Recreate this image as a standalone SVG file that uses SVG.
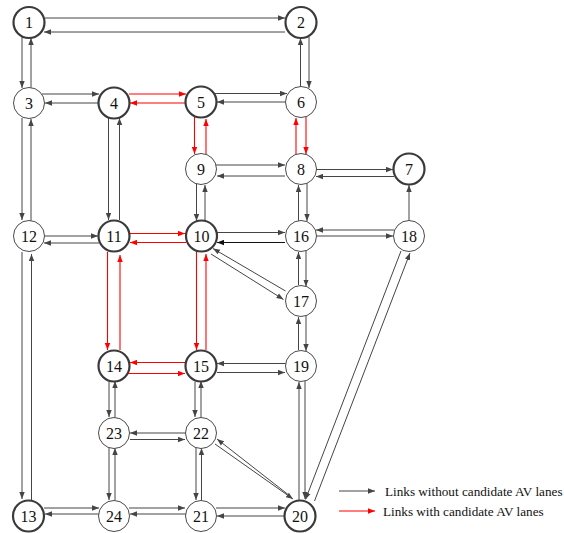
<svg xmlns="http://www.w3.org/2000/svg" width="564" height="533" viewBox="0 0 564 533">
  <style>
    .lk { stroke: #454545; stroke-width: 1; fill: none; marker-end: url(#ah); }
    .lk-k { stroke: #111; stroke-width: 1; fill: none; marker-end: url(#ahk); }
    .av { stroke: #ff0000; stroke-width: 1.1; fill: none; marker-end: url(#ahr); }
    .nd circle { fill: #fff; stroke: #4a4a4a; stroke-width: 1; }
    .nd.hub circle { stroke: #3a3a3a; stroke-width: 2.2; }
    .nd text { font-family: "Liberation Serif", "Times New Roman", serif; font-size: 16px; text-anchor: middle; fill: #111; }
    .lg { font-family: "Liberation Serif", "Times New Roman", serif; font-size: 13.2px; fill: #111; }
  </style>
  <defs>
    <marker id="ah" markerUnits="userSpaceOnUse" markerWidth="7" markerHeight="6" refX="7" refY="3" orient="auto">
      <path d="M0,0.3 L7,3 L0,5.7 z" fill="#454545"/>
    </marker>
    <marker id="ahk" markerUnits="userSpaceOnUse" markerWidth="7" markerHeight="6" refX="7" refY="3" orient="auto">
      <path d="M0,0.3 L7,3 L0,5.7 z" fill="#111"/>
    </marker>
    <marker id="ahr" markerUnits="userSpaceOnUse" markerWidth="7" markerHeight="6" refX="7" refY="3" orient="auto">
      <path d="M0,0.3 L7,3 L0,5.7 z" fill="#ff0000"/>
    </marker>
  </defs>

  <rect width="564" height="533" fill="#fff"/>

  <!-- directed links -->
  <g id="links">
    <line class="lk" x1="45" y1="18" x2="285" y2="18"/>
    <line class="lk" x1="285" y1="32" x2="44" y2="32"/>
    <line class="lk" x1="22" y1="37" x2="22" y2="88"/>
    <line class="lk" x1="31" y1="88" x2="31" y2="38"/>
    <line class="lk" x1="309" y1="37" x2="309" y2="88"/>
    <line class="lk" x1="300.5" y1="87" x2="300.5" y2="38"/>
    <line class="lk" x1="42" y1="94" x2="99" y2="94"/>
    <line class="lk" x1="99" y1="103" x2="45" y2="103"/>
    <line class="lk" x1="215" y1="93.5" x2="287" y2="93.5"/>
    <line class="lk" x1="285" y1="102" x2="217" y2="102"/>
    <line class="lk" x1="216" y1="165" x2="285" y2="165"/>
    <line class="lk" x1="285" y1="176" x2="217" y2="176"/>
    <line class="lk" x1="316" y1="169.5" x2="393" y2="169.5"/>
    <line class="lk" x1="394" y1="176.5" x2="316" y2="176.5"/>
    <line class="lk" x1="22" y1="118" x2="22" y2="220"/>
    <line class="lk" x1="31" y1="221" x2="31" y2="119"/>
    <line class="lk" x1="108.5" y1="118" x2="108.5" y2="220"/>
    <line class="lk" x1="119.5" y1="220" x2="119.5" y2="118"/>
    <line class="lk" x1="196.5" y1="184" x2="196.5" y2="221"/>
    <line class="lk" x1="205" y1="221" x2="205" y2="185"/>
    <line class="lk" x1="298.5" y1="221" x2="298.5" y2="185"/>
    <line class="lk" x1="307" y1="183" x2="307" y2="221"/>
    <line class="lk" x1="409" y1="220" x2="409" y2="185"/>
    <line class="lk" x1="45" y1="236" x2="98" y2="236"/>
    <line class="lk" x1="99" y1="243" x2="44" y2="243"/>
    <line class="lk" x1="217" y1="232.5" x2="285" y2="232.5"/>
    <line class="lk-k" x1="285" y1="242.5" x2="217" y2="242.5"/>
    <line class="lk" x1="394" y1="230" x2="316" y2="230"/>
    <line class="lk" x1="316" y1="236" x2="393" y2="236"/>
    <line class="lk" x1="285.5" y1="291" x2="213" y2="248.5"/>
    <line class="lk" x1="211" y1="254" x2="283.5" y2="299.5"/>
    <line class="lk" x1="298.5" y1="285" x2="298.5" y2="252"/>
    <line class="lk" x1="306" y1="251" x2="306" y2="286.5"/>
    <line class="lk" x1="298.5" y1="350" x2="298.5" y2="317"/>
    <line class="lk" x1="306" y1="316" x2="306" y2="351"/>
    <line class="lk" x1="286" y1="363.5" x2="217" y2="363.5"/>
    <line class="lk" x1="217" y1="372.5" x2="285" y2="372.5"/>
    <line class="lk" x1="401" y1="251" x2="305.5" y2="499.5"/>
    <line class="lk" x1="314.5" y1="501" x2="410" y2="253"/>
    <line class="lk" x1="22" y1="252" x2="22" y2="499"/>
    <line class="lk" x1="31.5" y1="500" x2="31.5" y2="254"/>
    <line class="lk" x1="109" y1="382" x2="109" y2="417"/>
    <line class="lk" x1="115" y1="417" x2="115" y2="381"/>
    <line class="lk" x1="195" y1="382" x2="195" y2="417"/>
    <line class="lk" x1="201" y1="417" x2="201" y2="381"/>
    <line class="lk" x1="130" y1="439.5" x2="185" y2="439.5"/>
    <line class="lk" x1="186" y1="433" x2="130" y2="433"/>
    <line class="lk" x1="109" y1="448" x2="109" y2="500"/>
    <line class="lk" x1="115" y1="500" x2="115" y2="448"/>
    <line class="lk" x1="196" y1="448" x2="196" y2="500"/>
    <line class="lk" x1="201.5" y1="500" x2="201.5" y2="448"/>
    <line class="lk" x1="215" y1="444" x2="293" y2="499"/>
    <line class="lk" x1="290" y1="496" x2="217" y2="439"/>
    <line class="lk" x1="305" y1="381" x2="305" y2="499"/>
    <line class="lk" x1="299" y1="500" x2="299" y2="382"/>
    <line class="lk" x1="44" y1="508" x2="99" y2="508"/>
    <line class="lk" x1="99" y1="514" x2="45" y2="514"/>
    <line class="lk" x1="129" y1="508" x2="185" y2="508"/>
    <line class="lk" x1="186" y1="514" x2="130" y2="514"/>
    <line class="lk" x1="216" y1="508" x2="285" y2="508"/>
    <line class="lk" x1="285" y1="516" x2="217" y2="516"/>

    <!-- links carrying candidate AV lanes -->
    <line class="av" x1="129" y1="94" x2="186" y2="94"/>
    <line class="av" x1="186" y1="103" x2="130" y2="103"/>
    <line class="av" x1="194.5" y1="117" x2="194.5" y2="154"/>
    <line class="av" x1="206" y1="154" x2="206" y2="119"/>
    <line class="av" x1="306" y1="117" x2="306" y2="154"/>
    <line class="av" x1="296" y1="154" x2="296" y2="118"/>
    <line class="av" x1="130" y1="233.5" x2="185" y2="233.5"/>
    <line class="av" x1="186" y1="242.5" x2="130" y2="242.5"/>
    <line class="av" x1="107.5" y1="252" x2="107.5" y2="350"/>
    <line class="av" x1="120" y1="350" x2="120" y2="255"/>
    <line class="av" x1="196.5" y1="251" x2="196.5" y2="350"/>
    <line class="av" x1="206" y1="350" x2="206" y2="254"/>
    <line class="av" x1="186" y1="362.5" x2="130" y2="362.5"/>
    <line class="av" x1="128" y1="373.5" x2="185" y2="373.5"/>

    <!-- legend keys -->
    <line class="lk" x1="339" y1="491" x2="375" y2="491"/>
    <line class="av" x1="339" y1="511" x2="375" y2="511"/>
  </g>

  <!-- intersections -->
  <g id="n1" class="nd hub"><circle cx="29" cy="22.5" r="15.5"/><text x="29" y="28">1</text></g>
  <g id="n2" class="nd hub"><circle cx="301" cy="22.5" r="15.5"/><text x="301" y="28">2</text></g>
  <g id="n3" class="nd"><circle cx="29" cy="103" r="15.5"/><text x="29" y="108.5">3</text></g>
  <g id="n4" class="nd hub"><circle cx="114" cy="103" r="15.5"/><text x="114" y="108.5">4</text></g>
  <g id="n5" class="nd hub"><circle cx="201" cy="102" r="15.5"/><text x="201" y="107.5">5</text></g>
  <g id="n6" class="nd"><circle cx="301" cy="102" r="15.5"/><text x="301" y="107.5">6</text></g>
  <g id="n7" class="nd hub"><circle cx="409" cy="169" r="15.5"/><text x="409" y="174.5">7</text></g>
  <g id="n8" class="nd"><circle cx="301" cy="169" r="15.5"/><text x="301" y="174.5">8</text></g>
  <g id="n9" class="nd"><circle cx="201" cy="169" r="15.5"/><text x="201" y="174.5">9</text></g>
  <g id="n10" class="nd hub"><circle cx="201.5" cy="236" r="15.5"/><text x="201.5" y="241.5">10</text></g>
  <g id="n11" class="nd hub"><circle cx="114" cy="236" r="15.5"/><text x="114" y="241.5">11</text></g>
  <g id="n12" class="nd"><circle cx="29" cy="236" r="15.5"/><text x="29" y="241.5">12</text></g>
  <g id="n13" class="nd hub"><circle cx="28.5" cy="516" r="15.5"/><text x="28.5" y="521.5">13</text></g>
  <g id="n14" class="nd hub"><circle cx="114" cy="366" r="15.5"/><text x="114" y="371.5">14</text></g>
  <g id="n15" class="nd hub"><circle cx="201" cy="366" r="15.5"/><text x="201" y="371.5">15</text></g>
  <g id="n16" class="nd"><circle cx="301" cy="236" r="15.5"/><text x="301" y="241.5">16</text></g>
  <g id="n17" class="nd"><circle cx="301" cy="301" r="15.5"/><text x="301" y="306.5">17</text></g>
  <g id="n18" class="nd"><circle cx="409" cy="236" r="15.5"/><text x="409" y="241.5">18</text></g>
  <g id="n19" class="nd"><circle cx="301" cy="366" r="15.5"/><text x="301" y="371.5">19</text></g>
  <g id="n20" class="nd hub"><circle cx="300" cy="516" r="15.5"/><text x="300" y="521.5">20</text></g>
  <g id="n21" class="nd"><circle cx="201" cy="516" r="15.5"/><text x="201" y="521.5">21</text></g>
  <g id="n22" class="nd"><circle cx="201" cy="433" r="15.5"/><text x="201" y="438.5">22</text></g>
  <g id="n23" class="nd"><circle cx="114" cy="433" r="15.5"/><text x="114" y="438.5">23</text></g>
  <g id="n24" class="nd"><circle cx="114" cy="516" r="15.5"/><text x="114" y="521.5">24</text></g>

  <!-- legend -->
  <g id="legend">
    <text class="lg" x="385" y="496">Links without candidate AV lanes</text>
    <text class="lg" x="383" y="516">Links with candidate AV lanes</text>
  </g>
</svg>
